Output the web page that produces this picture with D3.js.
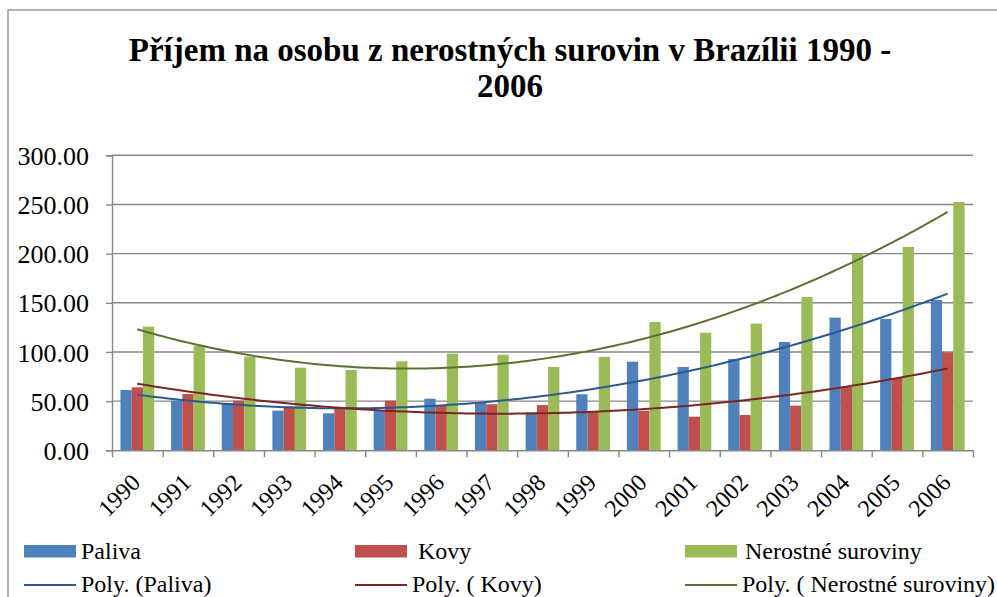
<!DOCTYPE html>
<html>
<head>
<meta charset="utf-8">
<script src="https://cdn.jsdelivr.net/npm/d3@7"></script>
<style>
  html, body { margin: 0; padding: 0; background: #fff; }
  svg { display: block; }
  svg text { font-family: "Liberation Serif", serif; }
</style>
</head>
<body>
<svg id="chart" width="997" height="597" font-family="Liberation Serif"></svg>
<script>
// ---- data ----
const titleLines = ["Příjem na osobu z nerostných surovin v Brazílii 1990 -", "2006"];
const years = ["1990","1991","1992","1993","1994","1995","1996","1997","1998","1999","2000","2001","2002","2003","2004","2005","2006"];
const seriesNames = ["Paliva", "Kovy", "Nerostné suroviny"];
const trendNames = ["Poly. (Paliva)", "Poly. ( Kovy)", "Poly. ( Nerostné suroviny)"];
const paliva = [61.3, 50.5, 48, 40.3, 37.6, 41, 52.5, 48.4, 38.6, 57, 90.1, 84.7, 92.8, 110.1, 134.9, 133.5, 153];
const kovy = [64, 57.3, 50.5, 44.3, 42.7, 50.5, 46, 46.8, 46, 39.3, 40.3, 34.2, 35.9, 45.4, 64.7, 73.5, 99.7];
const nerostne = [125.7, 106.4, 95.2, 84, 81.7, 90.5, 98.3, 97.3, 84.7, 95, 130.5, 119.6, 128.8, 155.9, 200, 206.8, 252.5];
const yTicks = [0, 50, 100, 150, 200, 250, 300];

const FONT = "'Liberation Serif', serif";
const barColors = ["#4F81BD", "#C0504D", "#9BBB59"];
const trendColors = ["#2B5A8F", "#7A2624", "#5A7230"];
const allSeries = [paliva, kovy, nerostne];

const svg = d3.select("#chart");
const W = 997, H = 597;
const plot = { left: 112, right: 973, top: 155.3, bottom: 450.3 };

function styleText(sel, size, weight) {
  return sel.attr("font-family", "Liberation Serif").style("font-family", FONT)
    .style("font-size", size + "px").style("font-weight", weight || "normal").attr("fill", "#000");
}

svg.append("rect").attr("x", 0).attr("y", 0).attr("width", W).attr("height", H).attr("fill", "#fff");
svg.append("rect").attr("x", 8).attr("y", 10).attr("width", 1100).attr("height", 700)
  .attr("fill", "none").attr("stroke", "#8a8a8a").attr("stroke-width", 1.3);

// title
const title = svg.append("g").selectAll("text").data(titleLines).join("text")
  .attr("x", 510).attr("y", (d, i) => 61 + i * 36)
  .attr("text-anchor", "middle")
  .text(d => d);
styleText(title, 33, "bold");

// scales
const y = d3.scaleLinear().domain([0, 300]).range([plot.bottom, plot.top]);
const x0 = d3.scaleBand().domain(years).range([plot.left, plot.right]).padding(0);
const x1 = d3.scaleBand().domain(d3.range(3)).range([0, x0.bandwidth()]).paddingInner(0).paddingOuter(0.75);
const xLin = d3.scaleLinear().domain([0, years.length]).range([plot.left, plot.right]);

// gridlines
svg.append("g").selectAll("line").data(yTicks.filter(t => t > 0)).join("line")
  .attr("x1", plot.left).attr("x2", plot.right)
  .attr("y1", d => y(d)).attr("y2", d => y(d))
  .attr("stroke", "#878787").attr("stroke-width", 1.4);

// bars
const groups = svg.append("g").selectAll("g").data(years).join("g")
  .attr("transform", d => `translate(${x0(d)},0)`);
groups.selectAll("rect").data((d, i) => allSeries.map((s, k) => ({ k, v: s[i] }))).join("rect")
  .attr("x", d => x1(d.k)).attr("width", x1.bandwidth())
  .attr("y", d => y(d.v)).attr("height", d => y(0) - y(d.v))
  .attr("fill", d => barColors[d.k]);

// axes
const yAxis = d3.axisLeft(y).tickValues(yTicks).tickSize(6).tickFormat(d3.format(".2f"));
const gy = svg.append("g").attr("transform", `translate(${plot.left},0)`).call(yAxis);
gy.attr("font-family", null).attr("font-size", null);
gy.select(".domain").attr("stroke", "#878787").attr("stroke-width", 1.4);
gy.selectAll(".tick line").attr("stroke", "#878787").attr("stroke-width", 1.4);
styleText(gy.selectAll(".tick text").attr("x", -23).attr("dy", "0.35em"), 26);

const xAxis = d3.axisBottom(xLin).tickValues(d3.range(years.length + 1)).tickSize(7).tickSizeOuter(0).tickFormat("");
const gx = svg.append("g").attr("transform", `translate(0,${plot.bottom})`).call(xAxis);
gx.select(".domain").attr("stroke", "#878787").attr("stroke-width", 1.4);
gx.selectAll(".tick line").attr("stroke", "#878787").attr("stroke-width", 1.4);

styleText(svg.append("g").selectAll("text").data(years).join("text")
  .attr("transform", d => `translate(${x0(d) + x0.bandwidth() / 2 + 4.5},484) rotate(-45)`)
  .attr("text-anchor", "end")
  .text(d => d), 24);

// quadratic least squares trendlines (Excel "Poly." order 2)
function polyFit2(vals) {
  const S = [0, 0, 0, 0, 0], T = [0, 0, 0];
  vals.forEach((v, i) => {
    const xv = i + 1;
    for (let p = 0; p < 5; p++) S[p] += Math.pow(xv, p);
    for (let p = 0; p < 3; p++) T[p] += v * Math.pow(xv, p);
  });
  const A = [[S[0], S[1], S[2], T[0]], [S[1], S[2], S[3], T[1]], [S[2], S[3], S[4], T[2]]];
  for (let c = 0; c < 3; c++) {
    for (let r = c + 1; r < 3; r++) {
      const f = A[r][c] / A[c][c];
      for (let k = c; k < 4; k++) A[r][k] -= f * A[c][k];
    }
  }
  const coef = [0, 0, 0];
  for (let r = 2; r >= 0; r--) {
    let s = A[r][3];
    for (let k = r + 1; k < 3; k++) s -= A[r][k] * coef[k];
    coef[r] = s / A[r][r];
  }
  return xv => coef[0] + coef[1] * xv + coef[2] * xv * xv;
}
const xCat = d3.scaleLinear().domain([1, years.length])
  .range([x0(years[0]) + x0.bandwidth() / 2, x0(years[years.length - 1]) + x0.bandwidth() / 2]);
const line = d3.line().x(d => xCat(d[0])).y(d => y(d[1]));
allSeries.forEach((s, k) => {
  const f = polyFit2(s);
  const pts = d3.range(1, years.length + 0.001, 0.1).map(t => [t, f(t)]);
  svg.append("path").attr("d", line(pts)).attr("fill", "none")
    .attr("stroke", trendColors[k]).attr("stroke-width", 2);
});

// legend
const legX = [24, 355, 685];
const legTextX = [81, 418, 745];
const legTrendTextX = [81, 412, 742];
const leg = svg.append("g");
seriesNames.forEach((name, k) => {
  leg.append("rect").attr("x", legX[k]).attr("y", 545).attr("width", 52).attr("height", 12.5).attr("fill", barColors[k]);
  styleText(leg.append("text").attr("x", legTextX[k]).attr("y", 559).text(name), 24);
  leg.append("line").attr("x1", legX[k]).attr("x2", legX[k] + 52).attr("y1", 585).attr("y2", 585)
    .attr("stroke", trendColors[k]).attr("stroke-width", 2);
  styleText(leg.append("text").attr("x", legTrendTextX[k]).attr("y", 592).text(trendNames[k]), 24);
});
</script>
</body>
</html>
